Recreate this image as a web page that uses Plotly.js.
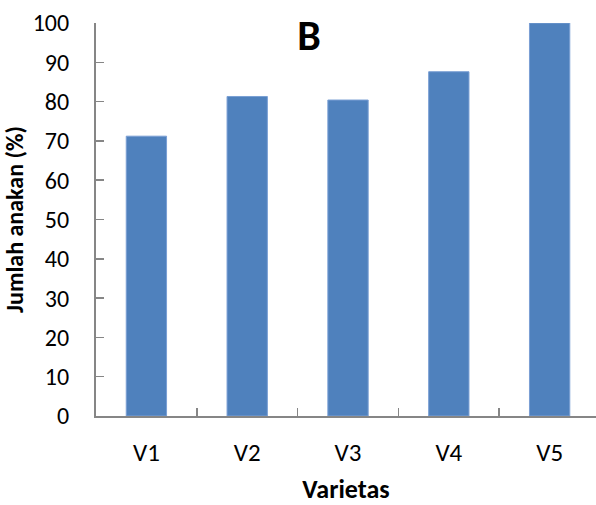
<!DOCTYPE html>
<html>
<head>
<meta charset="utf-8">
<script src="https://cdn.plot.ly/plotly-3.0.1.min.js"></script>
<style>html,body{margin:0;padding:0;background:#fff;}#chart{width:596px;height:505px;}</style>
</head>
<body>
<div id="chart"></div>
<script>
const categories = ["V1", "V2", "V3", "V4", "V5"];
const values = [71.2, 81.3, 80.4, 87.6, 100];
const yTicks = [0, 10, 20, 30, 40, 50, 60, 70, 80, 90, 100];
const chartTitle = "B";
const xTitle = "Varietas";
const yTitle = "Jumlah anakan (%)";

const FONT = "Carlito, Lato, 'Liberation Sans', sans-serif";
const AXIS = "#868686";

const trace = {
  type: "bar",
  x: categories,
  y: values,
  marker: { color: "#4f81bd", line: { color: "#7a9fd4", width: 1 } },
  hoverinfo: "x+y"
};

const layout = {
  width: 596,
  height: 505,
  margin: { l: 96, r: 0, t: 23, b: 89, pad: 0 },
  paper_bgcolor: "#ffffff",
  plot_bgcolor: "#ffffff",
  bargap: 0.6,
  showlegend: false,
  font: { family: FONT, color: "#000000" },
  title: {
    text: chartTitle,
    font: { family: FONT, size: 42, weight: "bold", color: "#000" },
    x: 309 / 596, xanchor: "center", xref: "container",
    y: 1 - 35 / 505, yanchor: "middle", yref: "container"
  },
  xaxis: {
    type: "category",
    range: [-0.5, 4.46],
    showline: true, linecolor: AXIS, linewidth: 2,
    ticks: "inside", ticklen: 8, tickwidth: 1.5, tickcolor: AXIS,
    tickson: "boundaries",
    showgrid: false, zeroline: false,
    tickfont: { family: FONT, size: 25, color: "#000" },
    ticklabelstandoff: 13,
    title: { text: xTitle, font: { family: FONT, size: 26, weight: "bold", color: "#000" }, standoff: 14 },
    fixedrange: true
  },
  yaxis: {
    range: [0, 100],
    tickvals: yTicks,
    ticktext: yTicks.map(String),
    showline: true, linecolor: AXIS, linewidth: 2,
    ticks: "inside", ticklen: 8, tickwidth: 1.5, tickcolor: AXIS,
    showgrid: false, zeroline: false,
    tickfont: { family: FONT, size: 24, color: "#000" },
    ticklabelstandoff: 20,
    title: { text: yTitle, font: { family: FONT, size: 24, weight: "bold", color: "#000" }, standoff: 4 },
    fixedrange: true
  }
};

Plotly.newPlot("chart", [trace], layout, { displayModeBar: false, staticPlot: true });
</script>
</body>
</html>
